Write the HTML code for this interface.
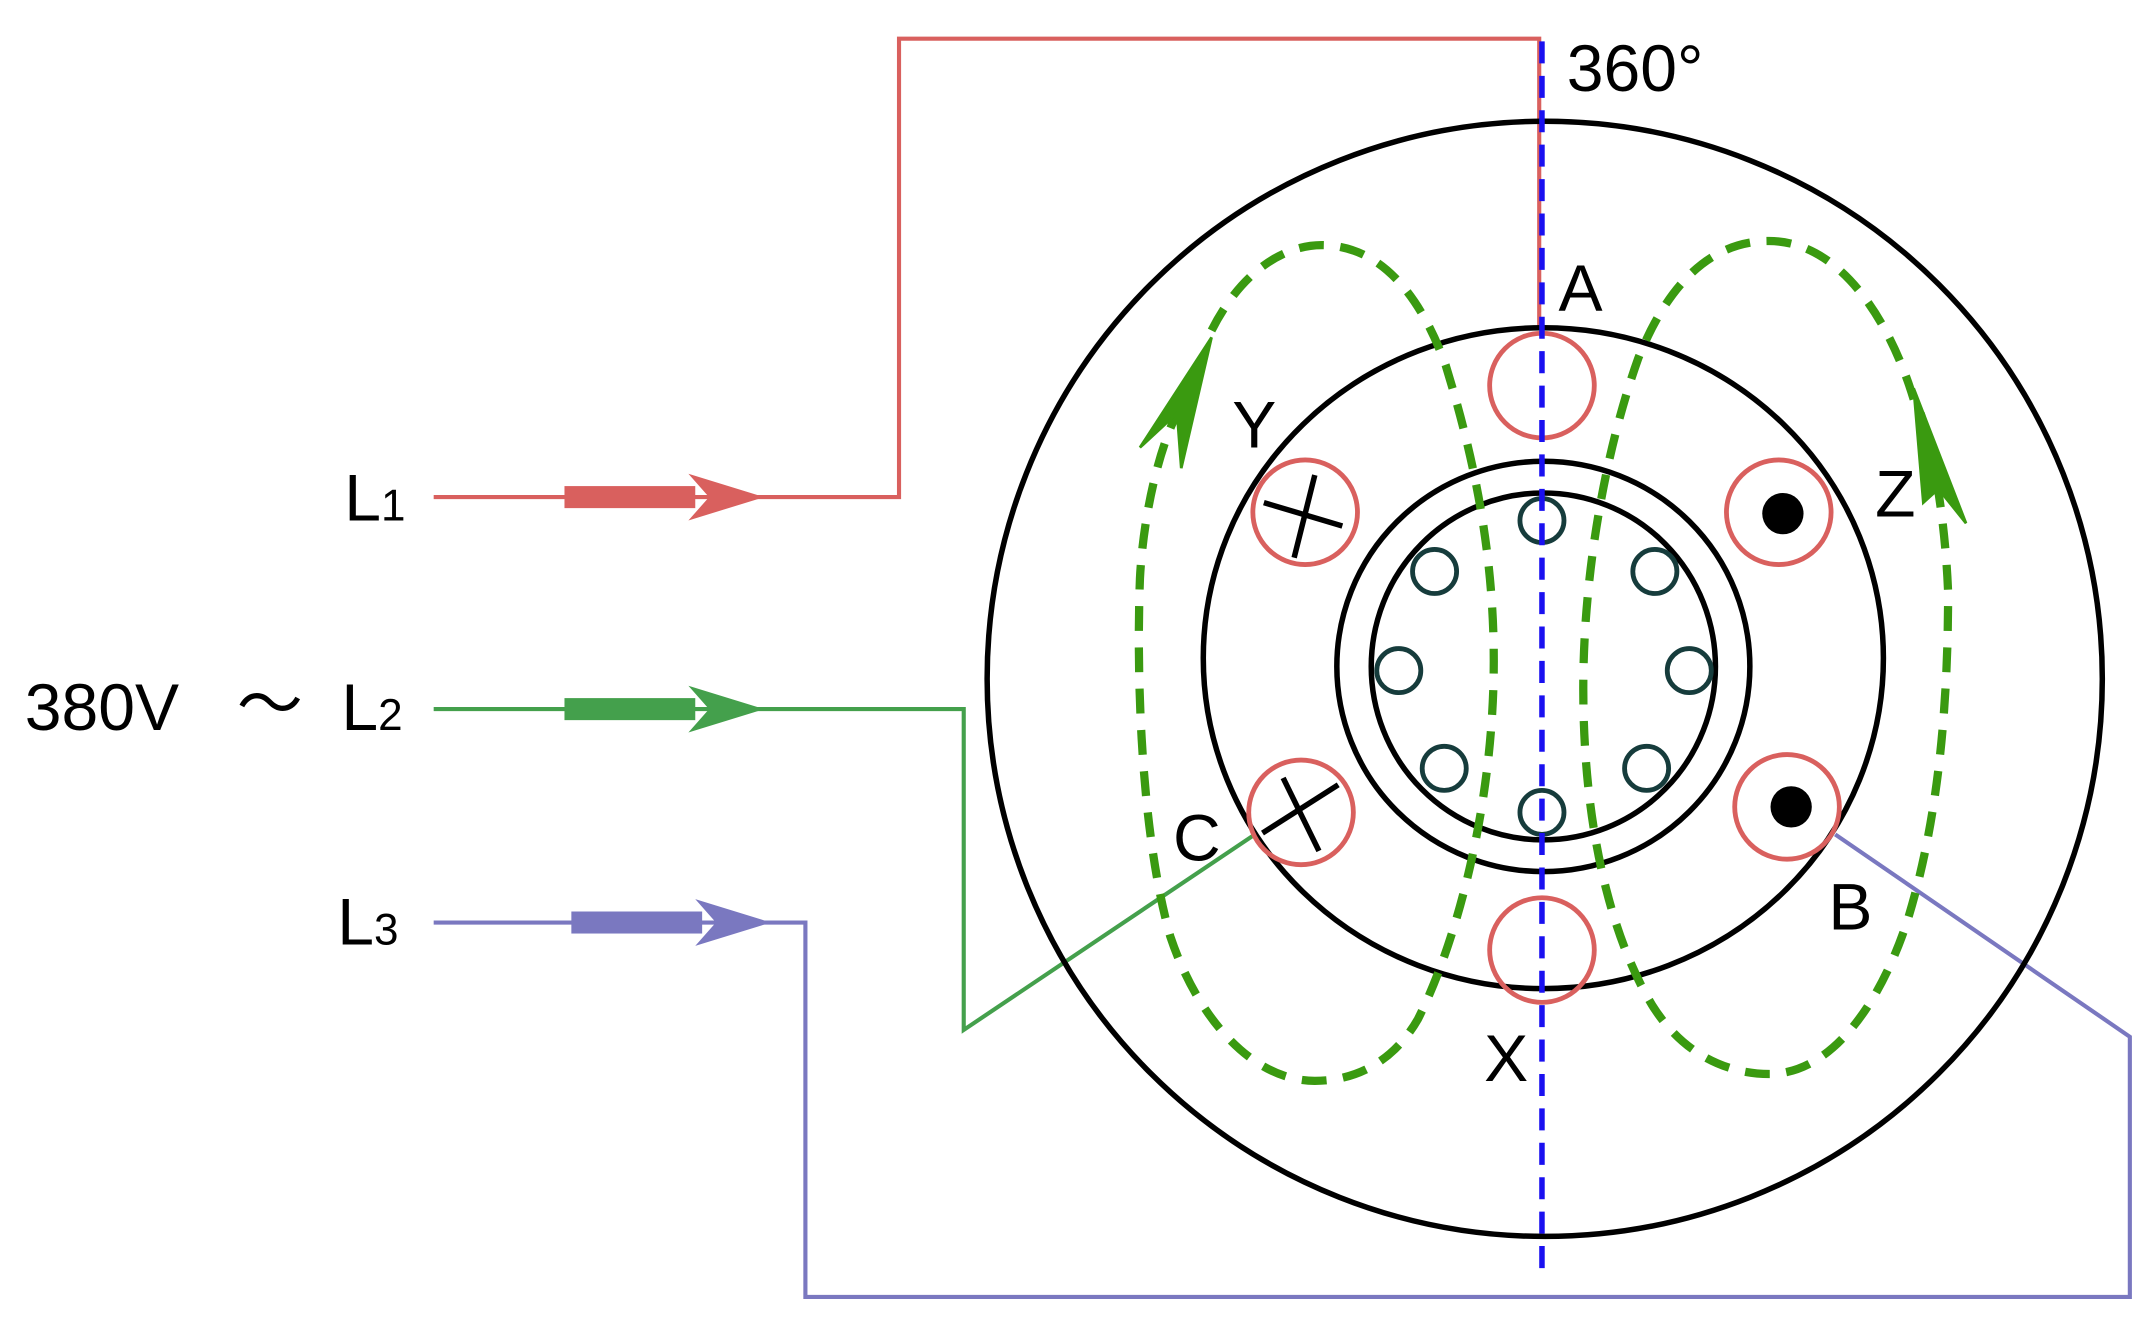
<!DOCTYPE html>
<html><head><style>html,body{margin:0;padding:0;background:#fff}svg{display:block}</style></head><body>
<svg width="2156" height="1326" viewBox="0 0 1566 963" xmlns="http://www.w3.org/2000/svg" font-family="Liberation Sans, sans-serif">
<rect width="1570" height="970" fill="#fff"/>
<g fill="none" stroke-width="3">
<polyline points="315,361 653,361 653,28 1118,28 1118,240" stroke="#d9605e"/>
<polyline points="315,515 700,515 700,748 910,607" stroke="#44a04c"/>
<polyline points="315,670 585,670 585,942 1547,942 1547,753 1333,606" stroke="#7a78c0"/>
</g>
<rect x="410" y="353" width="95" height="16" fill="#d9605e"/>
<polygon points="500,344 555,361 500,378 515,361" fill="#d9605e"/>
<rect x="410" y="507" width="95" height="16" fill="#44a04c"/>
<polygon points="500,498 555,515 500,532 515,515" fill="#44a04c"/>
<rect x="415" y="662" width="95" height="16" fill="#7a78c0"/>
<polygon points="505,653 560,670 505,687 520,670" fill="#7a78c0"/>
<g fill="none" stroke="#000" stroke-width="4">
<ellipse cx="1122" cy="493" rx="405" ry="405"/>
<ellipse cx="1121" cy="478" rx="247" ry="240"/>
<ellipse cx="1121" cy="484" rx="150" ry="149"/>
<ellipse cx="1121" cy="484" rx="125" ry="126"/>
</g>
<g fill="none" stroke="#163c3c" stroke-width="3.5">
<circle cx="1120" cy="378" r="16"/><circle cx="1042" cy="415" r="16"/><circle cx="1202" cy="415" r="16"/>
<circle cx="1016" cy="487" r="16"/><circle cx="1227" cy="487" r="16"/><circle cx="1049" cy="558" r="16"/>
<circle cx="1196" cy="558" r="16"/><circle cx="1120" cy="590" r="16"/>
</g>
<g fill="none" stroke="#d9605e" stroke-width="3.5">
<circle cx="1120" cy="280" r="38"/><circle cx="1120" cy="690" r="38"/>
<circle cx="948" cy="372" r="38"/><circle cx="945" cy="590" r="38"/>
<circle cx="1292" cy="372" r="38"/><circle cx="1298" cy="586" r="38"/>
</g>
<circle cx="1295" cy="373" r="15" fill="#000"/><circle cx="1301" cy="586" r="15" fill="#000"/>
<g stroke="#000" stroke-width="4">
<line x1="918" y1="365" x2="975" y2="382"/><line x1="955" y1="345" x2="940" y2="405"/>
<line x1="917" y1="605" x2="972" y2="570"/><line x1="932" y1="565" x2="958" y2="618"/>
</g>
<g fill="none" stroke="#3a9a10" stroke-width="6" stroke-dasharray="18,12">
<path d="M880,240 C900,200 930,178 960,178 C1000,178 1030,210 1050,265 C1070,330 1085,400 1085,480 C1085,580 1060,680 1030,740 C1010,775 980,785 955,785 C910,785 870,740 850,680 C830,610 825,500 828,420 C830,380 840,330 855,300"/>
<path d="M1390,290 C1375,240 1340,175 1285,175 C1240,175 1210,210 1190,260 C1165,330 1150,420 1150,500 C1150,600 1170,680 1200,730 C1225,770 1260,780 1285,780 C1330,780 1365,730 1385,670 C1410,590 1415,500 1415,430 C1413,380 1405,330 1395,300"/>
</g>
<polygon points="880,245 858,340 855,300 828,325" fill="#3a9a10" stroke="#3a9a10" stroke-width="2"/>
<polygon points="1390,282 1428,380 1408,355 1397,365" fill="#3a9a10" stroke="#3a9a10" stroke-width="2"/>
<line x1="1120" y1="30" x2="1120" y2="930" stroke="#1a10f0" stroke-width="4" stroke-dasharray="16,9"/>
<g font-size="48" fill="#000">
<text x="1138" y="66">360°</text>
<text x="1132" y="226">A</text>
<text x="895" y="325">Y</text>
<text x="1362" y="375">Z</text>
<text x="852" y="625">C</text>
<text x="1328" y="675">B</text>
<text x="1078" y="785">X</text>
<text x="250" y="378">L<tspan font-size="32">1</tspan></text>
<text x="18" y="530">380V</text>
<text x="172" y="528">～</text>
<text x="248" y="530">L<tspan font-size="32">2</tspan></text>
<text x="245" y="686">L<tspan font-size="32">3</tspan></text>
</g>
</svg>
</body></html>
